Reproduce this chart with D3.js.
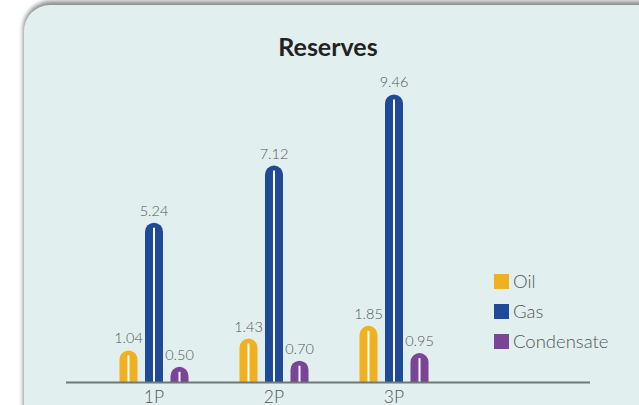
<!DOCTYPE html>
<html>
<head>
<meta charset="utf-8">
<script src="https://cdn.jsdelivr.net/npm/d3@7"></script>
<style>
  body { margin: 0; background: #fff; }
  svg { display: block; font-family: Lato, "Open Sans", sans-serif; }
</style>
</head>
<body>
<svg id="chart" width="639" height="405"></svg>
<script>
var categories = ['1P', '2P', '3P'];
var seriesNames = ['Oil', 'Gas', 'Condensate'];
var oil = [1.04, 1.43, 1.85];
var gas = [5.24, 7.12, 9.46];
var condensate = [0.50, 0.70, 0.95];
var colors = ['#f0b022', '#1f4a96', '#7b4597'];

var svg = d3.select('#chart');

// ----- panel -----
var defs = svg.append('defs');
var blur = defs.append('filter').attr('id', 'shadow')
    .attr('x', '-10%').attr('y', '-10%').attr('width', '120%').attr('height', '120%');
blur.append('feGaussianBlur').attr('stdDeviation', 2);

svg.append('rect')
    .attr('x', 23).attr('y', 1).attr('width', 660).attr('height', 440)
    .attr('rx', 28)
    .attr('fill', '#8a9090')
    .attr('filter', 'url(#shadow)');
svg.append('rect')
    .attr('x', 24).attr('y', 5).attr('width', 660).attr('height', 400)
    .attr('rx', 26)
    .attr('fill', '#e1f0ef');
svg.append('rect')
    .attr('x', 24).attr('y', 380).attr('width', 660).attr('height', 25)
    .attr('fill', '#e1f0ef');

// ----- scales -----
var baseline = 382;
var groupX = d3.scalePoint().domain(categories).range([154, 394]);
var seriesX = d3.scalePoint().domain(seriesNames).range([-25.5, 25.5]);
var y = d3.scaleLinear().domain([0, 10]).range([baseline, 78]);
var barW = 18;

var data = [];
categories.forEach(function(c, i) {
  [oil, gas, condensate].forEach(function(s, j) {
    data.push({ cat: c, series: seriesNames[j], value: s[i], color: colors[j] });
  });
});

function barPath(d) {
  var cx = groupX(d.cat) + seriesX(d.series);
  var top = y(d.value);
  var r = barW / 2;
  var x0 = cx - r, x1 = cx + r;
  return 'M' + x0 + ',' + baseline +
         'L' + x0 + ',' + (top + r) +
         'A' + r + ',' + r + ' 0 0 1 ' + x1 + ',' + (top + r) +
         'L' + x1 + ',' + baseline + 'Z';
}

var g = svg.append('g');

g.selectAll('.bar')
    .data(data)
  .enter().append('path')
    .attr('class', 'bar')
    .attr('d', barPath)
    .attr('fill', function(d) { return d.color; });

// white centre stripe
g.selectAll('.stripe')
    .data(data)
  .enter().append('line')
    .attr('x1', function(d) { return groupX(d.cat) + seriesX(d.series); })
    .attr('x2', function(d) { return groupX(d.cat) + seriesX(d.series); })
    .attr('y1', function(d) { return y(d.value) + 5; })
    .attr('y2', baseline)
    .attr('stroke', '#fff')
    .attr('stroke-width', 2);

// value labels
g.selectAll('.val')
    .data(data)
  .enter().append('text')
    .attr('x', function(d) { return groupX(d.cat) + seriesX(d.series); })
    .attr('y', function(d) { return y(d.value) - 7; })
    .attr('text-anchor', 'middle')
    .attr('font-size', 14.5)
    .attr('font-weight', 300)
    .attr('fill', '#555')
    .text(function(d) { return d.value.toFixed(2); });

// baseline
svg.append('line')
    .attr('x1', 66).attr('x2', 590)
    .attr('y1', baseline + 0.5).attr('y2', baseline + 0.5)
    .attr('stroke', '#6f7878')
    .attr('stroke-width', 2);

// category labels
svg.append('g').selectAll('text')
    .data(categories)
  .enter().append('text')
    .attr('x', function(d) { return groupX(d); })
    .attr('y', 403)
    .attr('text-anchor', 'middle')
    .attr('font-size', 17.5)
    .attr('font-weight', 300)
    .attr('fill', '#555')
    .text(function(d) { return d; });

// title
svg.append('text')
    .attr('x', 328).attr('y', 56)
    .attr('text-anchor', 'middle')
    .attr('font-size', 25)
    .attr('font-weight', 'bold')
    .attr('fill', '#222')
    .text('Reserves');

// legend
var legend = svg.append('g').selectAll('g')
    .data(seriesNames)
  .enter().append('g')
    .attr('transform', function(d, i) { return 'translate(494,' + (274 + i * 30) + ')'; });
legend.append('rect')
    .attr('width', 15).attr('height', 15)
    .attr('fill', function(d, i) { return colors[i]; });
legend.append('text')
    .attr('x', 19).attr('y', 14)
    .attr('font-size', 18.5)
    .attr('font-weight', 300)
    .attr('fill', '#555')
    .text(function(d) { return d; });
</script>
</body>
</html>
